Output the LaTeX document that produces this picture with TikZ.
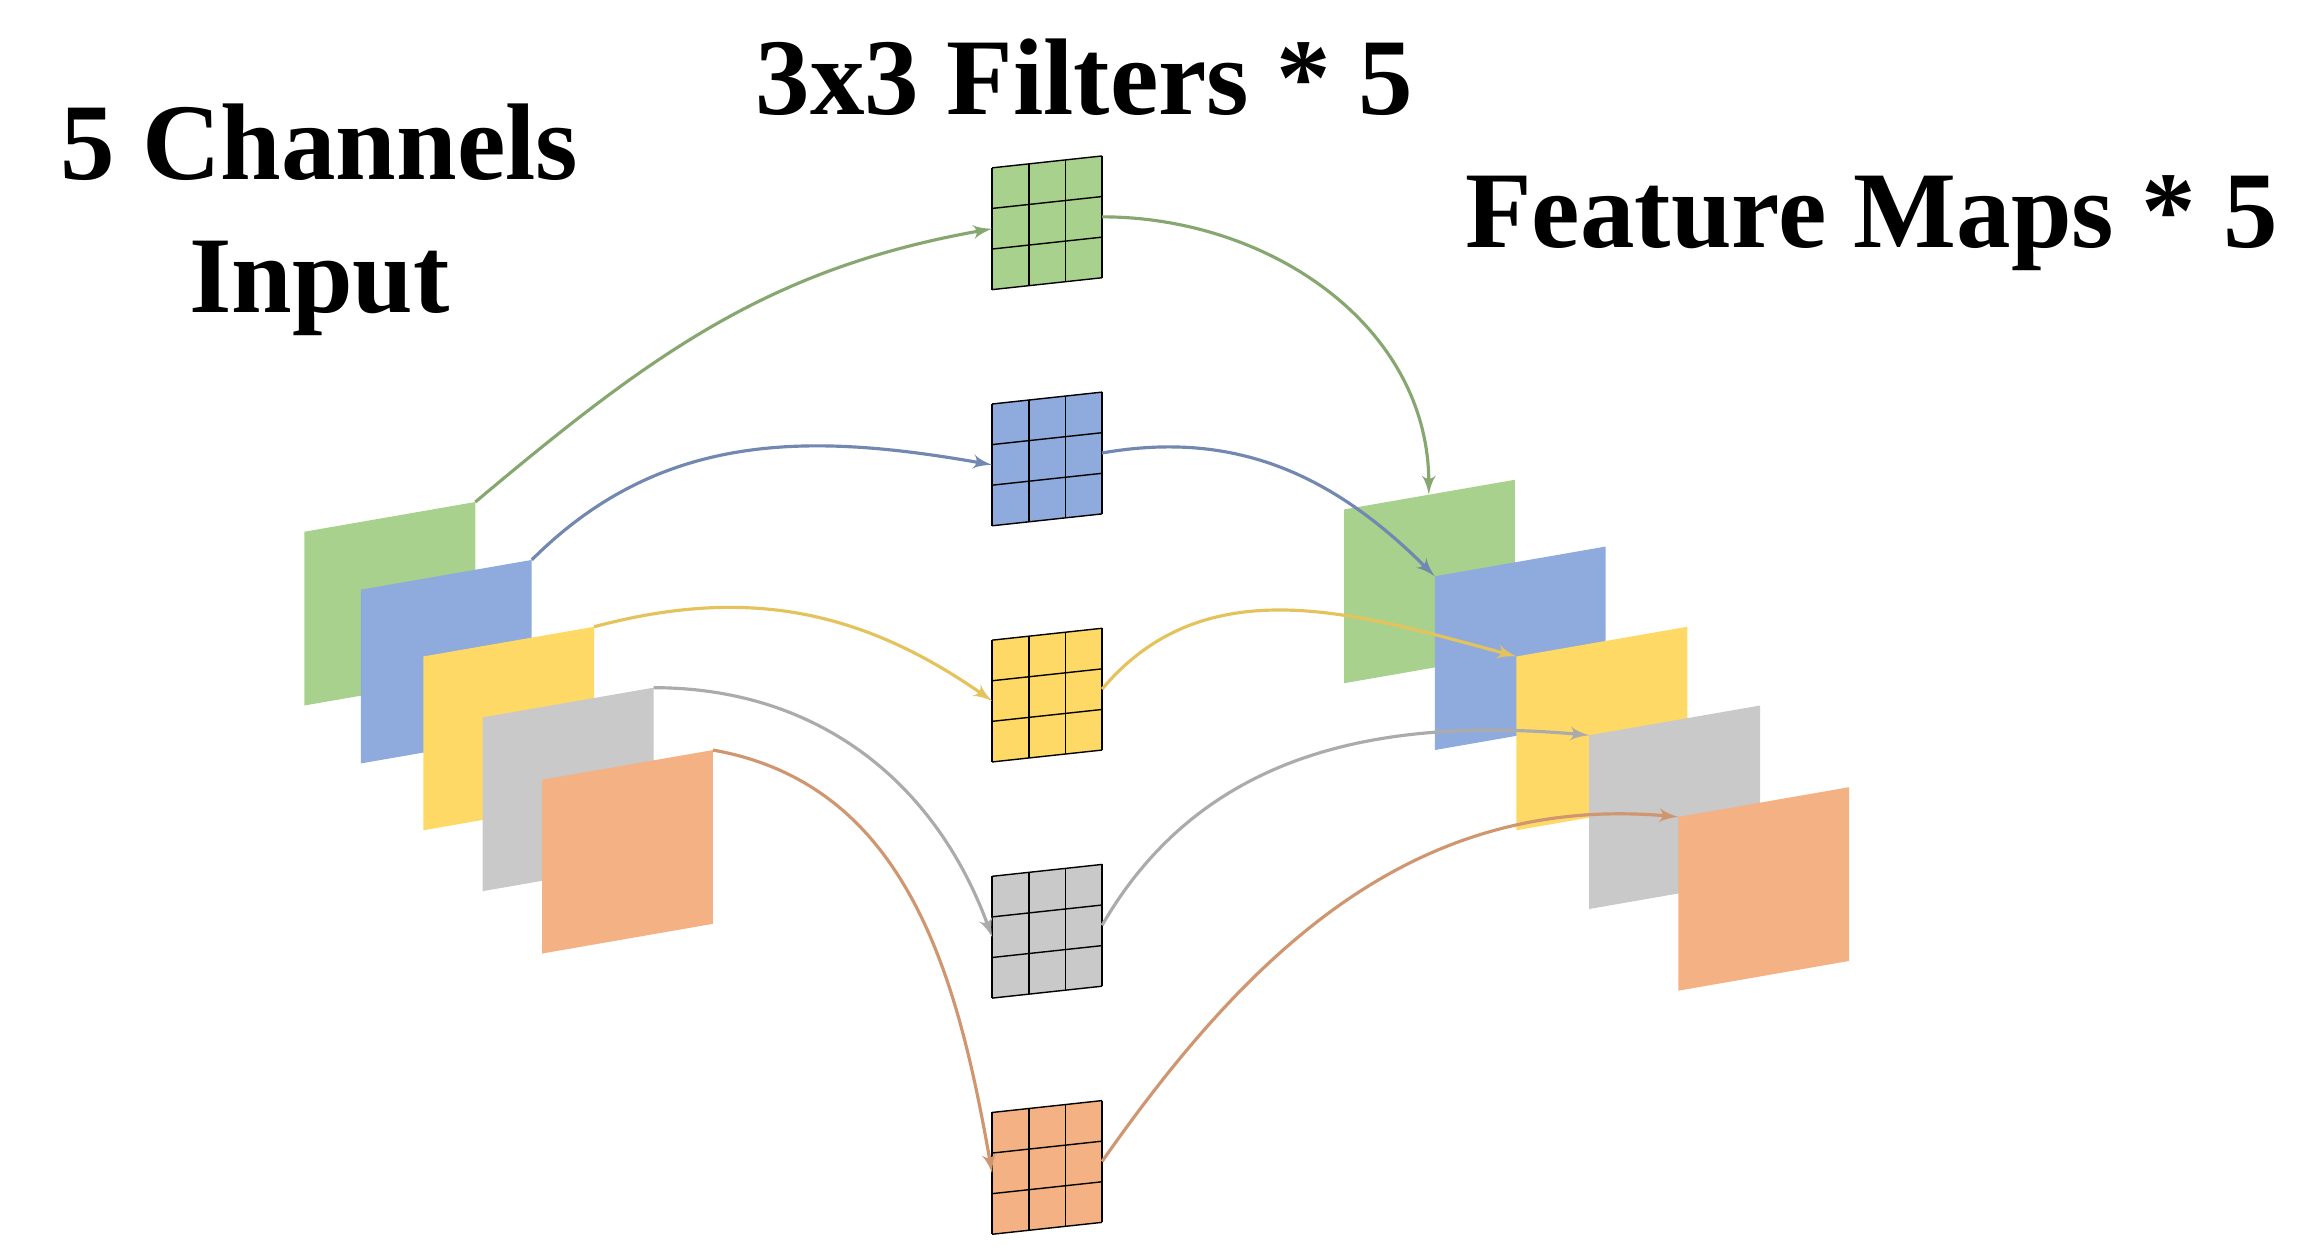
\documentclass[tikz,border=0pt]{standalone}
\usepackage{fontspec}
\setmainfont{Liberation Serif}
\usetikzlibrary{arrows}
\definecolor{cgreen}{HTML}{A9D18E}
\definecolor{cblue}{HTML}{8FAADC}
\definecolor{cyellow}{HTML}{FFD966}
\definecolor{cgray}{HTML}{C9C9C9}
\definecolor{corange}{HTML}{F4B183}
% feature map: top-left corner at (#1,#2)
\newcommand{\fmap}[4]{%
  \fill[#3] (#1,#2) -- ++(115,-20) -- ++(0,117) -- ++(-115,20) -- cycle;
  \coordinate (#4-tr) at ($(#1,#2)+(115,-20)$);
  \coordinate (#4-tl) at (#1,#2);}
% 3x3 filter: top-left corner at (#1,#2)
\newcommand{\filt}[4]{%
  \fill[#3] (#1,#2) -- ++(74,-8) -- ++(0,82) -- ++(-74,8) -- cycle;
  \foreach \u in {0,1,2,3} {\draw[grid] ($(#1,#2)+(74*\u/3,-8*\u/3)$) -- ++(0,82);}
  \foreach \v in {0,1,2,3} {\draw[grid] ($(#1,#2)+(0,82*\v/3)$) -- ++(74,-8);}
  \coordinate (#4-l) at ($(#1,#2)+(0,41)$);
  \coordinate (#4-r) at ($(#1,#2)+(74,33)$);}
\usetikzlibrary{calc}
\begin{document}
\begin{tikzpicture}[
    x=0.01485cm, y=-0.01485cm,
    grid/.style={black, line width=0.4pt},
    arrow/.style={-latex', line width=0.9pt},
    title/.style={font=\fontsize{31}{38}\selectfont\bfseries, align=center}
]
    \useasboundingbox (0,0) rectangle (1560,840);

    \node [title] (tin) at (215,148) {5 Channels\\Input};
    \node [title] (tfilt) at (730,52) {3x3 Filters * 5};
    \node [title] (tout) at (1260,150) {Feature Maps * 5};

    % input channels
    \fmap{205}{358}{cgreen}{ig}
    \fmap{243}{397}{cblue}{ib}
    \fmap{285}{442}{cyellow}{iy}
    \fmap{325}{483}{cgray}{ia}
    \fmap{365}{525}{corange}{io}

    % filters
    \filt{668}{113}{cgreen}{fg}
    \filt{668}{272}{cblue}{fb}
    \filt{668}{431}{cyellow}{fy}
    \filt{668}{590}{cgray}{fa}
    \filt{668}{749}{corange}{fo}

    % output maps
    \fmap{905}{343}{cgreen}{og}
    \fmap{966}{388}{cblue}{ob}
    \fmap{1021}{442}{cyellow}{oy}
    \fmap{1070}{495}{cgray}{oa}
    \fmap{1130}{550}{corange}{oo}

    \draw [arrow, cgreen!80!black] (ig-tr) to[out=40,in=190] (fg-l);
    \draw [arrow, cblue!80!black] (ib-tr) to[out=45,in=170] (fb-l);
    \draw [arrow, cyellow!90!black] (iy-tr) to[out=15,in=145] (fy-l);
    \draw [arrow, cgray!85!black] (ia-tr) to[out=0,in=110] (fa-l);
    \draw [arrow, corange!85!black] (io-tr) to[out=-10,in=100] (fo-l);

    \draw [arrow, cgreen!80!black] (fg-r) to[out=0,in=90] ($(og-tl)+(57,-10)$);
    \draw [arrow, cblue!80!black] (fb-r) to[out=10,in=135] ($(ob-tl)+(0,0)$);
    \draw [arrow, cyellow!90!black] (fy-r) to[out=50,in=165] (oy-tl);
    \draw [arrow, cgray!85!black] (fa-r) to[out=60,in=175] (oa-tl);
    \draw [arrow, corange!85!black] (fo-r) to[out=55,in=175] (oo-tl);
\end{tikzpicture}
\end{document}
